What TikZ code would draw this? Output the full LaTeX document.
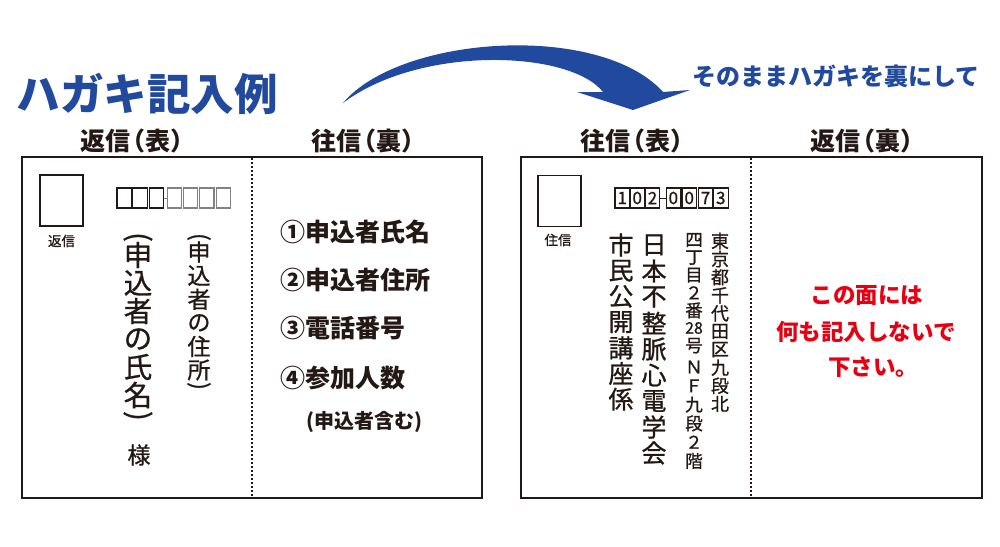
\documentclass[tikz,border=0pt]{standalone}
\usepackage{fontspec}
\usepackage{graphicx}
\newfontfamily\jp{Noto Sans CJK JP}
\newfontfamily\jpm[FakeBold=0.9]{Noto Sans CJK JP}
\definecolor{ink}{RGB}{35,24,21}
\definecolor{navy}{RGB}{33,73,157}
\definecolor{redtxt}{RGB}{230,0,18}
\definecolor{boxgray}{RGB}{130,130,130}
\newcommand\vop{\rotatebox{-90}{(}}
\newcommand\vcp{\rotatebox{-90}{)}}
\tikzset{
  every node/.style={inner sep=0pt, outer sep=0pt, text=ink},
  cardbox/.style={draw=ink, line width=2pt, minimum width=#1, minimum height=341pt},
  dotline/.style={draw=ink, line width=2pt, dash pattern=on 1.6pt off 2.4pt},
  stampbox/.style={draw=ink, line width=1.3pt, minimum width=43pt, minimum height=51pt},
  pbox/.style={draw=#1, line width=1.1pt, minimum width=14.5pt, minimum height=20pt},
  headtxt/.style={font=\jp\bfseries\fontsize{25}{25}\selectfont},
  smalltxt/.style={font=\jpm\fontsize{13.5}{14}\selectfont},
  listtxt/.style={font=\jp\bfseries\fontsize{25}{25}\selectfont, anchor=west},
  redline/.style={font=\jp\bfseries\fontsize{22.5}{23}\selectfont, text=redtxt},
  vA/.style={font=\jpm\fontsize{28.5}{29}\selectfont},
  vB/.style={font=\jpm\fontsize{23}{23}\selectfont},
  vC/.style={font=\jpm\fontsize{25}{25}\selectfont},
  vD/.style={font=\jpm\fontsize{18}{18}\selectfont},
  vE/.style={font=\jpm\fontsize{17.5}{18}\selectfont},
  digit/.style={font=\jpm\fontsize{17}{17}\selectfont},
}
\begin{document}
\begin{tikzpicture}[x=1pt,y=-1pt]
\useasboundingbox (0,0) rectangle (1000,546);
\fill[white] (0,0) rectangle (1000,546);

% title and arrow
\node[font=\jp\bfseries\fontsize{43.5}{44}\selectfont, text=navy] (title) at (147,94) {ハガキ記入例};
\node[font=\jp\bfseries\fontsize{24}{24}\selectfont, text=navy] (subtitle) at (836,76) {そのままハガキを裏にして};
\fill[navy] (343,103) .. controls (400,35) and (600,22) .. (663,92) -- (690,90) -- (633,110) -- (577,92) -- (603,92) .. controls (570,50) and (420,45) .. (343,103) -- cycle;

% headers
\node[headtxt] (hL1) at (138,141) {返信\kern-0.4em（表）};
\node[headtxt] (hL2) at (369,141) {往信\kern-0.4em（裏）};
\node[headtxt] (hR1) at (638,141) {往信\kern-0.4em（表）};
\node[headtxt] (hR2) at (868,141) {返信\kern-0.4em（裏）};

% cards
\node[cardbox=460pt] (cardL) at (252,327.5) {};
\node[cardbox=461pt] (cardR) at (751.5,327.5) {};
\coordinate (dL1) at (251.5,158); \coordinate (dL2) at (251.5,497);
\coordinate (dR1) at (751,158); \coordinate (dR2) at (751,497);
\draw[dotline] (dL1) -- (dL2);
\draw[dotline] (dR1) -- (dR2);

% stamps
\node[stampbox] (stampL) at (61.5,200.5) {};
\node[smalltxt] (stampLt) at (61.5,241) {返信};
\node[stampbox] (stampR) at (559.5,201) {};
\node[smalltxt] (stampRt) at (558,240) {住信};

% left postal boxes
\foreach \x [count=\i] in {124.2,140,156.5} \node[pbox=ink] (pL\i) at (\x,198) {};
\foreach \x [count=\i from 4] in {174.3,190.3,206.7,223.3} \node[pbox=boxgray] (pL\i) at (\x,198) {};
\draw[boxgray, line width=1pt] (pL3.east) -- (pL4.west);

% right postal boxes
\foreach \x/\d [count=\i] in {622.2/1,637.2/0,652.5/2} \node[pbox=ink, digit] (pR\i) at (\x,198) {\d};
\foreach \x/\d [count=\i from 4] in {673.3/0,689.2/0,705.5/7,720.8/3} \node[pbox=ink, digit] (pR\i) at (\x,198) {\d};
\draw[ink, line width=1pt] (pR3.east) -- (pR4.west);

% left front vertical texts
\node[vA] (vAo) at (138,237) {\vop};
\foreach \c [count=\i from 0] in {申,込,者,の,氏,名} \node[vA] (vA\i) at (138,255+28*\i) {\c};
\node[vA] (vAc) at (138,416) {\vcp};
\node[vB] (sama) at (139,455) {様};
\node[vB] (vBo) at (199,237) {\vop};
\foreach \c [count=\i from 0] in {申,込,者,の,住,所} \node[vB] (vB\i) at (199,252+23.6*\i) {\c};
\node[vB] (vBc) at (199,386) {\vcp};

% left back list
\node[listtxt] (item1) at (280,232) {①申込者氏名};
\node[listtxt] (item2) at (280,280) {②申込者住所};
\node[listtxt] (item3) at (280,328) {③電話番号};
\node[listtxt] (item4) at (280,378) {④参加人数};
\node[font=\jp\bfseries\fontsize{20}{20}\selectfont] (item5) at (364,422) {(申込者含む)};

% right front vertical texts
\foreach \c [count=\i from 0] in {市,民,公,開,講,座,係} \node[vC] (vC\i) at (621,245+25.7*\i) {\c};
\foreach \c [count=\i from 0] in {日,本,不,整,脈,心,電,学,会} \node[vC] (vJ\i) at (654,245+26*\i) {\c};
\foreach \c [count=\i from 0] in {東,京,都,千,代,田,区,九,段,北} \node[vD] (vD\i) at (720,241+18.1*\i) {\c};
\foreach \c [count=\i from 0] in {四,丁,目,２,番,{\fontsize{16}{16}\selectfont 28},号} \node[vE] (vE\i) at (694,240+17.6*\i) {\c};
\foreach \c [count=\i from 0] in {Ｎ,Ｆ,九,段,２,階} \node[vE] (vF\i) at (694,367+18.8*\i) {\c};

% right back red text
\node[redline] (r1) at (867,296) {この面には};
\node[redline] (r2) at (866,332) {何も記入しないで};
\node[redline] (r3) at (873,367) {下さい。};
\end{tikzpicture}
\end{document}
